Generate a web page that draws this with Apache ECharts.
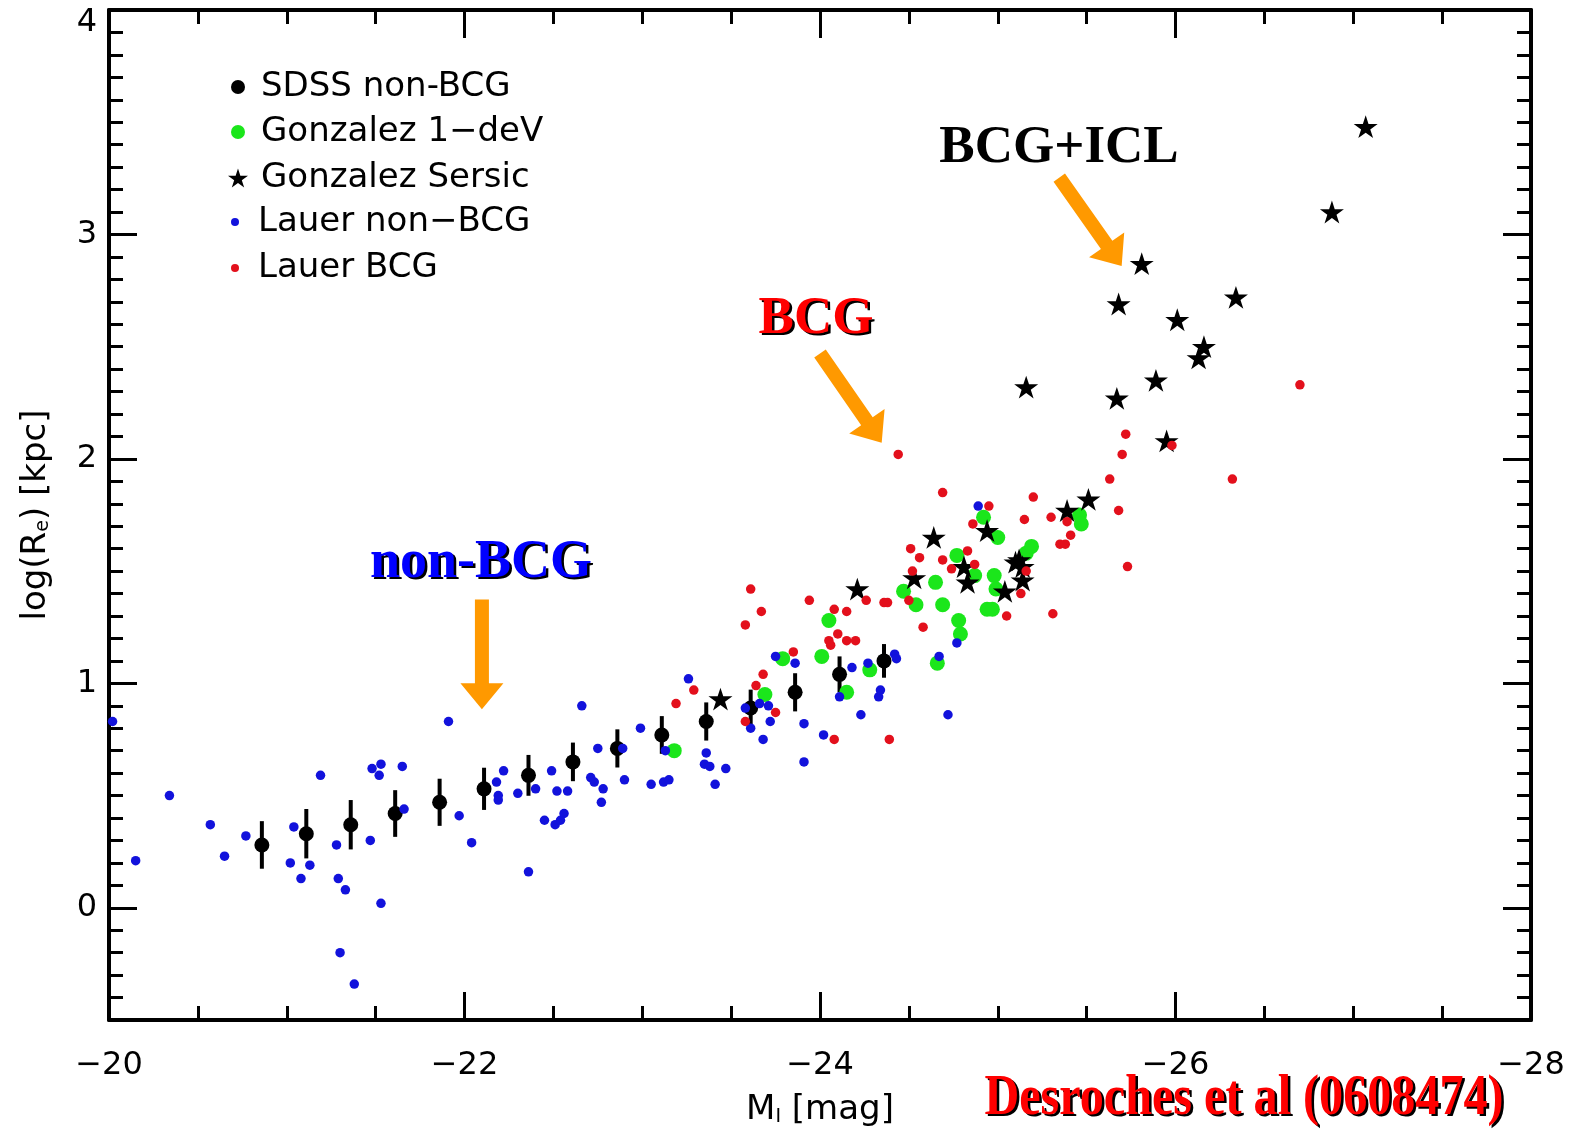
<!DOCTYPE html>
<html>
<head>
<meta charset="utf-8">
<script src="https://cdn.jsdelivr.net/npm/echarts@6/dist/echarts.min.js"></script>
<style>
html,body{margin:0;padding:0;background:#fff;}
#c{width:1585px;height:1129px;}
</style>
</head>
<body>
<div id="c"></div>
<script>
// ---------------- DATA ----------------
const seriesNames = ['SDSS non-BCG', 'Gonzalez 1\u2212deV', 'Gonzalez Sersic', 'Lauer non\u2212BCG', 'Lauer BCG'];

// SDSS non-BCG binned means with error bars
const sdssMag  = [-20.86,-21.11,-21.36,-21.61,-21.86,-22.11,-22.36,-22.61,-22.86,-23.11,-23.36,-23.61,-23.86,-24.11,-24.36];
const sdssLogR = [0.28,0.33,0.37,0.42,0.47,0.53,0.59,0.65,0.71,0.77,0.83,0.89,0.96,1.04,1.10];
const sdssErr  = [0.106,0.11,0.11,0.104,0.105,0.094,0.091,0.086,0.085,0.084,0.085,0.082,0.085,0.08,0.075];

// Gonzalez 1-deV (green)
const gonzalezDeV = [
 [-23.18,0.70],[-23.69,0.95],[-23.79,1.11],[-24.01,1.12],[-24.05,1.28],[-24.15,0.96],
 [-24.28,1.06],[-24.47,1.41],[-24.54,1.35],[-24.65,1.45],[-24.69,1.35],[-24.66,1.09],
 [-24.78,1.28],[-24.79,1.22],[-24.77,1.57],[-24.87,1.48],[-24.92,1.74],[-24.94,1.33],
 [-24.97,1.33],[-24.98,1.48],[-24.99,1.42],[-25.00,1.65],[-25.16,1.58],[-25.19,1.61],
 [-25.46,1.75],[-25.47,1.71]
];

// Gonzalez Sersic (stars)
const gonzalezSersic = [
 [-23.44,0.93],[-24.21,1.42],[-24.53,1.47],[-24.64,1.65],[-24.81,1.52],[-24.83,1.45],
 [-24.94,1.68],[-25.04,1.41],[-25.10,1.54],[-25.12,1.55],[-25.14,1.52],[-25.14,1.46],
 [-25.39,1.77],[-25.51,1.82],[-25.16,2.32],[-25.67,2.27],[-25.68,2.69],[-25.81,2.87],
 [-25.89,2.35],[-25.95,2.08],[-26.01,2.62],[-26.13,2.45],[-26.16,2.50],[-26.34,2.72],
 [-26.88,3.10],[-27.07,3.48]
];

// Lauer non-BCG (blue)
const lauerNonBCG = [
 [-20.02,0.83],[-20.15,0.21],[-20.34,0.50],[-20.57,0.37],[-20.65,0.23],[-20.77,0.32],
 [-21.02,0.20],[-21.04,0.36],[-21.08,0.13],[-21.13,0.19],[-21.19,0.59],[-21.28,0.28],
 [-21.29,0.13],[-21.33,0.08],[-21.30,-0.20],[-21.38,-0.34],[-21.47,0.30],[-21.48,0.62],
 [-21.53,0.64],[-21.52,0.59],[-21.53,0.02],[-21.65,0.63],[-21.66,0.44],[-21.91,0.83],
 [-21.97,0.41],[-22.04,0.29],[-22.18,0.56],[-22.19,0.50],[-22.19,0.48],[-22.22,0.61],
 [-22.30,0.51],[-22.36,0.16],[-22.40,0.53],[-22.45,0.39],[-22.49,0.61],[-22.51,0.37],
 [-22.54,0.39],[-22.56,0.42],[-22.52,0.52],[-22.58,0.52],[-22.66,0.90],[-22.71,0.58],
 [-22.73,0.56],[-22.75,0.71],[-22.77,0.47],[-22.78,0.53],[-22.89,0.71],[-22.90,0.57],
 [-22.99,0.80],[-23.05,0.55],[-23.12,0.56],[-23.15,0.57],[-23.13,0.70],[-23.26,1.02],
 [-23.36,0.69],[-23.35,0.64],[-23.38,0.63],[-23.47,0.62],[-23.41,0.55],[-23.58,0.89],
 [-23.66,0.91],[-23.71,0.90],[-23.61,0.80],[-23.72,0.83],[-23.68,0.75],[-23.75,1.12],
 [-23.86,1.09],[-23.91,0.82],[-23.91,0.65],[-24.02,0.77],[-24.11,0.94],[-24.18,1.07],
 [-24.23,0.86],[-24.27,1.09],[-24.33,0.94],[-24.34,0.97],[-24.42,1.13],[-24.43,1.11],
 [-24.67,1.12],[-24.72,0.86],[-24.77,1.18],[-24.89,1.79]
];

// Lauer BCG (red)
const lauerBCG = [
 [-23.19,0.91],[-23.29,0.97],[-23.58,1.26],[-23.61,1.42],[-23.67,1.32],[-23.58,0.83],
 [-23.64,0.99],[-23.68,1.04],[-23.75,0.87],[-23.85,1.14],[-23.94,1.37],[-24.05,1.19],
 [-24.06,1.17],[-24.10,1.22],[-24.08,1.33],[-24.15,1.32],[-24.15,1.19],[-24.20,1.19],
 [-24.08,0.75],[-24.26,1.37],[-24.36,1.36],[-24.38,1.36],[-24.39,0.75],[-24.44,2.02],
 [-24.50,1.37],[-24.51,1.60],[-24.52,1.50],[-24.56,1.56],[-24.58,1.25],[-24.69,1.85],
 [-24.69,1.55],[-24.74,1.51],[-24.83,1.59],[-24.86,1.71],[-24.87,1.53],[-24.95,1.79],
 [-25.05,1.30],[-25.13,1.40],[-25.15,1.73],[-25.16,1.50],[-25.20,1.83],[-25.30,1.74],
 [-25.31,1.31],[-25.35,1.62],[-25.38,1.62],[-25.39,1.72],[-25.41,1.66],[-25.63,1.91],
 [-25.68,1.77],[-25.70,2.02],[-25.72,2.11],[-25.73,1.52],[-25.98,2.06],[-26.32,1.91],
 [-26.70,2.33]
];

// axis ticks
const yMajorTicks = [0, 1, 2, 3, 4];
const yMinorTicks = [-0.4,-0.3,-0.2,-0.1,0.1,0.2,0.3,0.4,0.5,0.6,0.7,0.8,0.9,
  1.1,1.2,1.3,1.4,1.5,1.6,1.7,1.8,1.9,2.1,2.2,2.3,2.4,2.5,2.6,2.7,2.8,2.9,
  3.1,3.2,3.3,3.4,3.5,3.6,3.7,3.8,3.9];

// annotation texts
const annNonBCG = 'non-BCG';
const annBCG = 'BCG';
const annICL = 'BCG+ICL';
const annCredit = 'Desroches et al (0608474)';

// ---------------- CHART ----------------
const chart = echarts.init(document.getElementById('c'), null, {renderer: 'canvas'});
const SANS = 'DejaVu Sans';
const SERIF = 'Liberation Serif';
const STAR = 'path://M50,0L61.2,34.5L97.6,34.5L68.2,55.9L79.4,90.5L50,69.1L20.6,90.5L31.8,55.9L2.4,34.5L38.8,34.5Z';
const C_BLUE = '#1212dc', C_RED = '#e3101c', C_GREEN = '#1be61b', C_BLACK = '#000';
const minus = v => String(v).replace('-', '\u2212');

const axLine = {show: true, onZero: false, lineStyle: {color: '#000', width: 4}};
const majTick = {show: true, inside: true, length: 28, lineStyle: {color: '#000', width: 3}};
const minTickX = {show: true, splitNumber: 4, length: 14, lineStyle: {color: '#000', width: 3}};

function yAx(pos, major, withLabels) {
  const a = {
    type: 'value', position: pos, min: -0.5, max: 4,
    axisLine: major ? axLine : {show: false},
    axisTick: major
      ? Object.assign({}, majTick, {customValues: yMajorTicks})
      : {show: true, inside: true, length: 14, customValues: yMinorTicks, lineStyle: {color: '#000', width: 3}},
    axisLabel: {show: false},
    splitLine: {show: false}
  };
  if (withLabels) {
    a.axisLabel = {
      show: true, customValues: yMajorTicks, margin: 12,
      fontSize: 32, fontFamily: SANS, color: '#000',
      formatter: v => (v === 4 ? '{t|4}' : String(v)),
      rich: {t: {fontSize: 32, fontFamily: SANS, color: '#000', padding: [26, 0, 0, 0]}}
    };
    a.name = '{a|log(R}{s|e}{a|) [kpc]}';
    a.nameLocation = 'middle';
    a.nameGap = 56;
    a.nameTextStyle = {
      rich: {
        a: {fontSize: 34, fontFamily: SANS, color: '#000'},
        s: {fontSize: 19, fontFamily: SANS, color: '#000', verticalAlign: 'bottom'}
      }
    };
  }
  return a;
}

const legendCommon = {
  orient: 'vertical', padding: 0, selectedMode: false, itemWidth: 36,
  textStyle: {fontSize: 34, fontFamily: SANS, color: '#000'}
};
const legendRows = [87, 132, 178, 222, 268];
const legendLeft = [231, 231, 228, 231, 231];
const legendIcon = ['circle', 'circle', STAR, 'circle', 'circle'];
const legendIconSize = [14, 14, 19, 8, 8];

const option = {
  backgroundColor: '#fff',
  animation: false,
  grid: {left: 109, right: 54, top: 10, bottom: 109, containLabel: false, outerBoundsMode: 'none'},
  legend: seriesNames.map((n, i) => Object.assign({}, legendCommon, {
    data: [{name: n, icon: legendIcon[i]}],
    left: legendLeft[i], top: legendRows[i] - 17, itemHeight: legendIconSize[i]
  })),
  xAxis: [
    {
      type: 'value', position: 'bottom', min: -28, max: -20, interval: 2, inverse: true,
      axisLine: axLine, axisTick: majTick, minorTick: minTickX,
      axisLabel: {fontSize: 32, fontFamily: SANS, color: '#000', margin: 30, formatter: minus},
      splitLine: {show: false}, minorSplitLine: {show: false},
      name: '{a|M}{s|I}{a| [mag]}', nameLocation: 'middle', nameGap: 73,
      nameTextStyle: {
        rich: {
          a: {fontSize: 34, fontFamily: SANS, color: '#000'},
          s: {fontSize: 19, fontFamily: SANS, color: '#000', verticalAlign: 'bottom'}
        }
      }
    },
    {
      type: 'value', position: 'top', min: -28, max: -20, interval: 2, inverse: true,
      axisLine: axLine, axisTick: majTick, minorTick: minTickX,
      axisLabel: {show: false}, splitLine: {show: false}, minorSplitLine: {show: false}
    }
  ],
  yAxis: [
    yAx('left', true, true),
    yAx('left', false, false),
    yAx('right', true, false),
    yAx('right', false, false)
  ],
  series: [
    {
      type: 'custom', name: 'SDSS errors', xAxisIndex: 0, yAxisIndex: 0, silent: true,
      data: sdssMag.map((m, i) => [m, sdssLogR[i] - sdssErr[i], sdssLogR[i] + sdssErr[i]]),
      encode: {x: 0, y: [1, 2]},
      renderItem: function (params, api) {
        const p1 = api.coord([api.value(0), api.value(1)]);
        const p2 = api.coord([api.value(0), api.value(2)]);
        return {type: 'line', shape: {x1: p1[0], y1: p1[1], x2: p2[0], y2: p2[1]},
                style: {stroke: '#000', lineWidth: 4}};
      }
    },
    {
      type: 'scatter', name: seriesNames[0], xAxisIndex: 0, yAxisIndex: 0,
      data: sdssMag.map((m, i) => [m, sdssLogR[i]]),
      symbol: 'circle', symbolSize: 15, itemStyle: {color: C_BLACK, opacity: 1}
    },
    {
      type: 'scatter', name: seriesNames[1], xAxisIndex: 0, yAxisIndex: 0,
      data: gonzalezDeV, symbol: 'circle', symbolSize: 15, itemStyle: {color: C_GREEN, opacity: 1}
    },
    {
      type: 'scatter', name: seriesNames[2], xAxisIndex: 0, yAxisIndex: 0,
      data: gonzalezSersic, symbol: STAR, symbolSize: 24, symbolKeepAspect: true,
      itemStyle: {color: C_BLACK, opacity: 1}
    },
    {
      type: 'scatter', name: seriesNames[3], xAxisIndex: 0, yAxisIndex: 0,
      data: lauerNonBCG, symbol: 'circle', symbolSize: 9.5, itemStyle: {color: C_BLUE, opacity: 1}
    },
    {
      type: 'scatter', name: seriesNames[4], xAxisIndex: 0, yAxisIndex: 0,
      data: lauerBCG, symbol: 'circle', symbolSize: 9.5, itemStyle: {color: C_RED, opacity: 1}
    }
  ]
};
chart.setOption(option);

// ---------------- ANNOTATIONS ----------------
// arrows: [tail, tip] in data coordinates
const arrows = [
  [[-22.098, 1.374], [-22.098, 0.884]],
  [[-24.00, 2.470], [-24.347, 2.072]],
  [[-25.346, 3.253], [-25.697, 2.859]]
];
function px(p) { return chart.convertToPixel({xAxisIndex: 0, yAxisIndex: 0}, p); }
function arrowShape(tail, tip) {
  const a = px(tail), b = px(tip);
  const dx = b[0] - a[0], dy = b[1] - a[1], L = Math.hypot(dx, dy);
  const ux = dx / L, uy = dy / L, nx = -uy, ny = ux;
  const sw = 7, hw = 21.5, hl = 26;
  const bx = b[0] - ux * hl, by = b[1] - uy * hl;
  return [
    [a[0] + nx * sw, a[1] + ny * sw],
    [bx + nx * sw, by + ny * sw],
    [bx + nx * hw, by + ny * hw],
    [b[0], b[1]],
    [bx - nx * hw, by - ny * hw],
    [bx - nx * sw, by - ny * sw],
    [a[0] - nx * sw, a[1] - ny * sw]
  ];
}
function txt(text, x, y, color, size, scaleX, shadow) {
  const font = 'bold ' + size + 'px "' + SERIF + '"';
  const base = {text: text, font: font, textAlign: 'center', align: 'center',
                textVerticalAlign: 'middle', verticalAlign: 'middle'};
  const out = [];
  if (shadow) {
    out.push({type: 'text', x: x + 2.5, y: y + 2.5, scaleX: scaleX, z: 100,
              style: Object.assign({}, base, {fill: '#000'})});
  }
  out.push({type: 'text', x: x, y: y, scaleX: scaleX, z: 101,
            style: Object.assign({}, base, {fill: color})});
  return out;
}
const graphics = [];
arrows.forEach(ar => graphics.push({type: 'polygon', z: 90, shape: {points: arrowShape(ar[0], ar[1])},
                                    style: {fill: '#ff9900'}}));
graphics.push(...txt(annNonBCG, 481, 563, '#0000ff', 54, 1, true));
graphics.push(...txt(annBCG, 816, 319, '#ff0000', 53, 1, true));
graphics.push(...txt(annICL, 1059, 148, '#000000', 53, 1, false));
graphics.push(...txt(annCredit, 1244, 1099, '#ff0000', 58, 0.83, true));
chart.setOption({graphic: graphics});
</script>
</body>
</html>
